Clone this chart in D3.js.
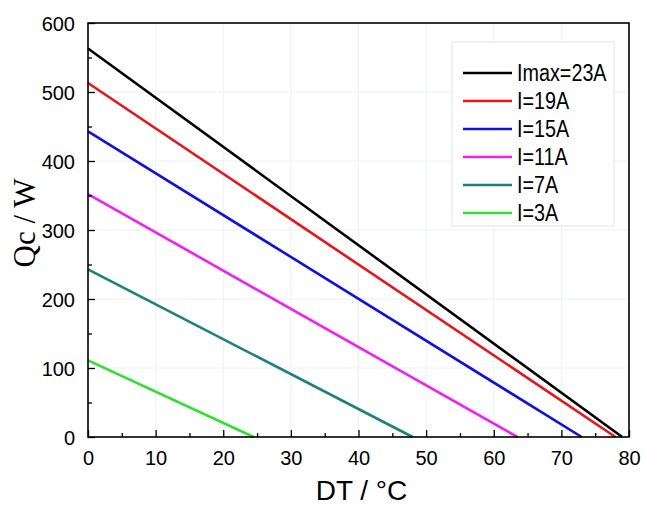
<!DOCTYPE html>
<html>
<head>
<meta charset="utf-8">
<script src="https://cdn.jsdelivr.net/npm/d3@7"></script>
<style>
  body { margin: 0; background: #fff; }
  svg { display: block; }
</style>
</head>
<body>
<div id="chart"></div>
<script>
// chart values
const seriesNames = ["Imax=23A", "I=19A", "I=15A", "I=11A", "I=7A", "I=3A"];
const seriesColors = ["#000000", "#e8141a", "#1010e0", "#f020f0", "#1a8080", "#30e030"];
// each line: [DT, Qc] at both ends
const qcAtZero = [563, 513, 443, 352, 243, 111];
const dtAtZeroQc = [79, 78, 73, 63.5, 48, 24.5];
const xTicks = [0, 10, 20, 30, 40, 50, 60, 70, 80];
const yTicks = [0, 100, 200, 300, 400, 500, 600];

const width = 645;
const height = 507;
const margin = { top: 23, left: 88, bottom: 70, right: 16 };

var svg = d3.select("#chart")
  .append("svg")
  .attr("width", width)
  .attr("height", height);

var x = d3.scaleLinear().domain([0, 80]).range([margin.left, width - margin.right]);
var y = d3.scaleLinear().domain([0, 600]).range([height - margin.bottom, margin.top]);

// faint grid
svg.append("g")
  .selectAll("line")
  .data(xTicks.slice(1, -1))
  .enter()
  .append("line")
  .attr("x1", d => x(d)).attr("x2", d => x(d))
  .attr("y1", y(600)).attr("y2", y(0))
  .attr("stroke", "#eef2f2").attr("stroke-width", 1);
svg.append("g")
  .selectAll("line")
  .data(yTicks.slice(1, -1))
  .enter()
  .append("line")
  .attr("x1", x(0)).attr("x2", x(80))
  .attr("y1", d => y(d)).attr("y2", d => y(d))
  .attr("stroke", "#eef2f2").attr("stroke-width", 1);

// data lines
var lineGen = d3.line().x(d => x(d[0])).y(d => y(d[1]));
svg.append("g")
  .selectAll("path")
  .data(seriesNames.map((name, i) => [[0, qcAtZero[i]], [dtAtZeroQc[i], 0]]))
  .enter()
  .append("path")
  .attr("d", lineGen)
  .attr("fill", "none")
  .attr("stroke", (d, i) => seriesColors[i])
  .attr("stroke-width", 2.6);

// axes: major ticks inward, minor ticks between
var xAxis = svg.append("g")
  .attr("transform", "translate(0," + y(0) + ")")
  .call(d3.axisBottom(x).tickValues(xTicks).tickSizeInner(-7).tickSizeOuter(0).tickPadding(14));
var xMinor = svg.append("g")
  .attr("transform", "translate(0," + y(0) + ")")
  .call(d3.axisBottom(x).tickValues(xTicks.slice(0, -1).map(d => d + 5)).tickSizeInner(-4).tickSizeOuter(0).tickFormat(""));
var yAxis = svg.append("g")
  .attr("transform", "translate(" + x(0) + ",0)")
  .call(d3.axisLeft(y).tickValues(yTicks).tickSizeInner(-7).tickSizeOuter(0).tickPadding(13));
var yMinor = svg.append("g")
  .attr("transform", "translate(" + x(0) + ",0)")
  .call(d3.axisLeft(y).tickValues(yTicks.slice(0, -1).map(d => d + 50)).tickSizeInner(-4).tickSizeOuter(0).tickFormat(""));

[xAxis, xMinor, yAxis, yMinor].forEach(function(g) {
  g.select(".domain").remove();
  g.selectAll("line").attr("stroke", "#000").attr("stroke-width", 1.3);
  g.selectAll("text")
    .attr("fill", "#000")
    .style("font-family", "'Liberation Sans', Arial, sans-serif")
    .style("font-size", "20px");
});
yAxis.selectAll("text").attr("dy", "0.36em");

// frame
svg.append("rect")
  .attr("x", x(0)).attr("y", y(600))
  .attr("width", x(80) - x(0)).attr("height", y(0) - y(600))
  .attr("fill", "none").attr("stroke", "#000").attr("stroke-width", 1.6);

// axis titles
svg.append("text")
  .attr("x", (x(0) + x(80)) / 2 + 3)
  .attr("y", 500)
  .attr("text-anchor", "middle")
  .style("font-family", "'Liberation Sans', Arial, sans-serif")
  .style("font-size", "28px")
  .text("DT / \u00b0C");

svg.append("text")
  .attr("transform", "translate(35,223) rotate(-90)")
  .attr("text-anchor", "middle")
  .style("font-family", "'Liberation Serif', 'Times New Roman', serif")
  .style("font-size", "31px")
  .text("Qc / W");

// legend
var legend = svg.append("g").attr("transform", "translate(452,42)");
legend.append("rect")
  .attr("width", 162).attr("height", 184)
  .attr("fill", "#fff").attr("stroke", "#e4e4e4").attr("stroke-width", 1);
var item = legend.selectAll("g")
  .data(seriesNames)
  .enter()
  .append("g")
  .attr("transform", (d, i) => "translate(0," + (31 + i * 28) + ")");
item.append("line")
  .attr("x1", 11).attr("x2", 60)
  .attr("stroke", (d, i) => seriesColors[i])
  .attr("stroke-width", 2.6);
item.append("text")
  .attr("transform", "translate(65,0) scale(0.86,1)")
  .attr("dy", "0.36em")
  .style("font-family", "'Liberation Sans', Arial, sans-serif")
  .style("font-size", "23px")
  .text(d => d);
</script>
</body>
</html>
